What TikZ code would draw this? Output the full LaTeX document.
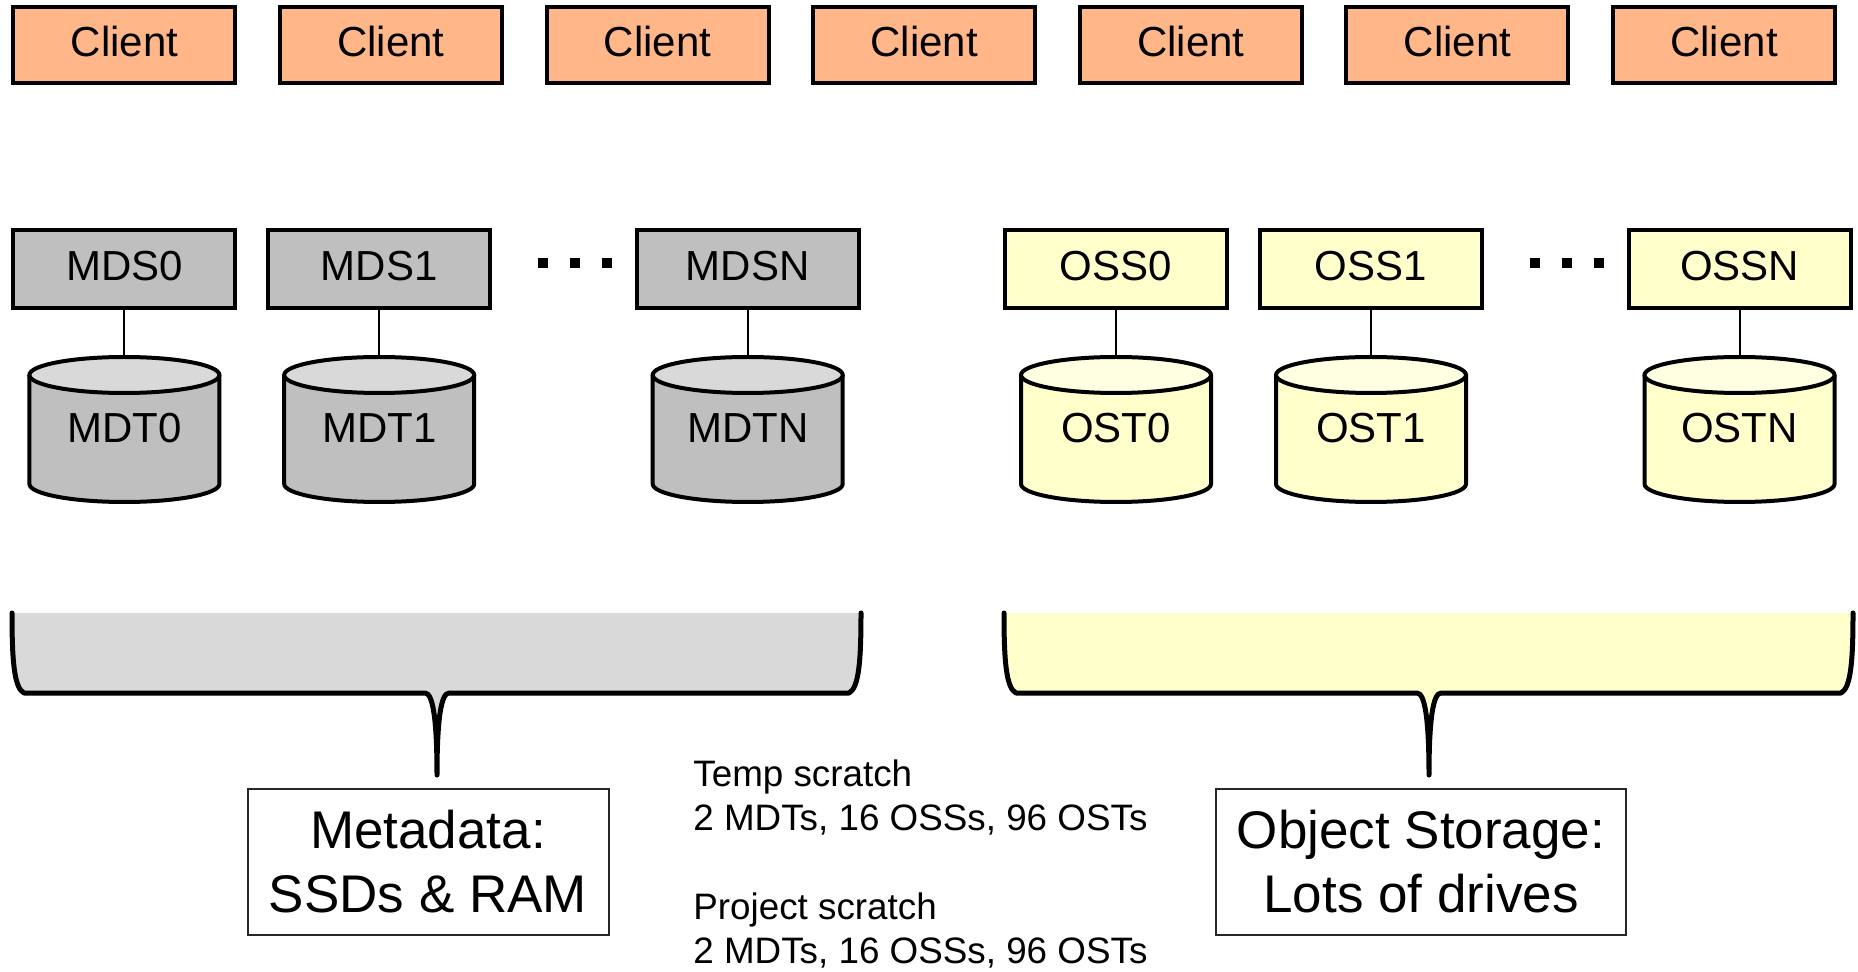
\documentclass[tikz,border=0pt]{standalone}
\usepackage{fontspec}
\setmainfont{Liberation Sans}
\definecolor{clientfill}{RGB}{255,182,137}
\definecolor{mdsfill}{RGB}{191,191,191}
\definecolor{mdtop}{RGB}{217,217,217}
\definecolor{ossfill}{RGB}{255,255,204}
\definecolor{osstop}{RGB}{255,255,226}
\definecolor{mdbrace}{RGB}{217,217,217}
\definecolor{osbrace}{RGB}{255,255,204}

% storage drum: name, x, label, body colour, lid colour
\newcommand{\drum}[5]{%
  \filldraw[fill=#4, line width=2pt] ({#2-95},375) -- ({#2-95},484)
    arc[start angle=180, end angle=0, x radius=95, y radius=18] -- ({#2+95},375);
  \filldraw[fill=#5, line width=2pt] (#2,375) ellipse [x radius=95, y radius=18];
  \node[drumlabel] (#1) at (#2,428) {#3};
  \coordinate (#1top) at (#2,357);
}

\begin{document}
\begin{tikzpicture}[x=0.5pt,y=-0.5pt,
  server/.style={draw=black, line width=2pt, minimum width=111pt,
    minimum height=39pt, inner sep=0pt, text height=15pt, text depth=3.3pt,
    font=\fontsize{21}{25}\selectfont},
  client/.style={server, fill=clientfill, minimum height=38pt},
  mds/.style={server, fill=mdsfill},
  oss/.style={server, fill=ossfill},
  link/.style={line width=1pt},
  drumlabel/.style={font=\fontsize{21}{25}\selectfont, inner sep=0pt},
  bracestroke/.style={line width=2.5pt, line cap=round, line join=round},
  tag/.style={draw=black!85, line width=1pt, fill=white, inner sep=0pt,
    minimum height=73pt, align=center, font=\fontsize{26.5}{32}\selectfont},
  scratch/.style={inner sep=0pt, align=left, font=\fontsize{18.4}{22.2}\selectfont},
  dot/.style={fill=black}
]
\useasboundingbox (0,0) rectangle (1858,972);

% clients
\foreach \i in {0,...,6}
  \node[client] (client\i) at ({124.4+266.6*\i},45) {Client};

% metadata servers and targets
\node[mds] (mds0) at (124.4,269) {MDS0};
\node[mds] (mds1) at (379.2,269) {MDS1};
\node[mds] (mdsN) at (747.7,269) {MDSN};
\drum{mdt0}{124.4}{MDT0}{mdsfill}{mdtop}
\drum{mdt1}{379.2}{MDT1}{mdsfill}{mdtop}
\drum{mdtN}{747.7}{MDTN}{mdsfill}{mdtop}
\draw[link] (mds0.south) -- (mdt0top);
\draw[link] (mds1.south) -- (mdt1top);
\draw[link] (mdsN.south) -- (mdtNtop);
\foreach \x in {543,575,607}
  \fill[dot] ({\x-5},258) rectangle ({\x+5},268);

% object storage servers and targets
\node[oss] (oss0) at (1116,269) {OSS0};
\node[oss] (oss1) at (1371,269) {OSS1};
\node[oss] (ossN) at (1739.5,269) {OSSN};
\drum{ost0}{1116}{OST0}{ossfill}{osstop}
\drum{ost1}{1371}{OST1}{ossfill}{osstop}
\drum{ostN}{1739.5}{OSTN}{ossfill}{osstop}
\draw[link] (oss0.south) -- (ost0top);
\draw[link] (oss1.south) -- (ost1top);
\draw[link] (ossN.south) -- (ostNtop);
\foreach \x in {1535,1567,1599}
  \fill[dot] ({\x-5},258) rectangle ({\x+5},268);

% metadata brace
\fill[mdbrace] (12,613) .. controls (12,660) and (14,688) .. (24,693)
  -- (425,693) .. controls (433,693) and (437,720) .. (437,775)
  .. controls (437,720) and (441,693) .. (449,693)
  -- (849,693) .. controls (859,688) and (861,660) .. (861,613) -- cycle;
\draw[bracestroke] (12,613) .. controls (12,660) and (14,688) .. (24,693)
  -- (425,693) .. controls (433,693) and (437,720) .. (437,775)
  .. controls (437,720) and (441,693) .. (449,693)
  -- (849,693) .. controls (859,688) and (861,660) .. (861,613);
\coordinate (mdtip) at (437,775);

% object storage brace
\fill[osbrace] (1004,613) .. controls (1004,660) and (1006,688) .. (1016,693)
  -- (1417,693) .. controls (1425,693) and (1429,720) .. (1429,775)
  .. controls (1429,720) and (1433,693) .. (1441,693)
  -- (1841,693) .. controls (1851,688) and (1853,660) .. (1853,613) -- cycle;
\draw[bracestroke] (1004,613) .. controls (1004,660) and (1006,688) .. (1016,693)
  -- (1417,693) .. controls (1425,693) and (1429,720) .. (1429,775)
  .. controls (1429,720) and (1433,693) .. (1441,693)
  -- (1841,693) .. controls (1851,688) and (1853,660) .. (1853,613);
\coordinate (ostip) at (1429,775);

% labels
\node[tag, minimum width=180.5pt] (meta) at (428,862) {Metadata:\\SSDs \& RAM};
\node[tag, minimum width=205pt] (objs) at (1421,862) {Object Storage:\\Lots of drives};
\node[scratch, anchor=west] (scratch) at (693,864)
  {Temp scratch\\2 MDTs, 16 OSSs, 96 OSTs\\[22.2pt]Project scratch\\2 MDTs, 16 OSSs, 96 OSTs};
\end{tikzpicture}
\end{document}
